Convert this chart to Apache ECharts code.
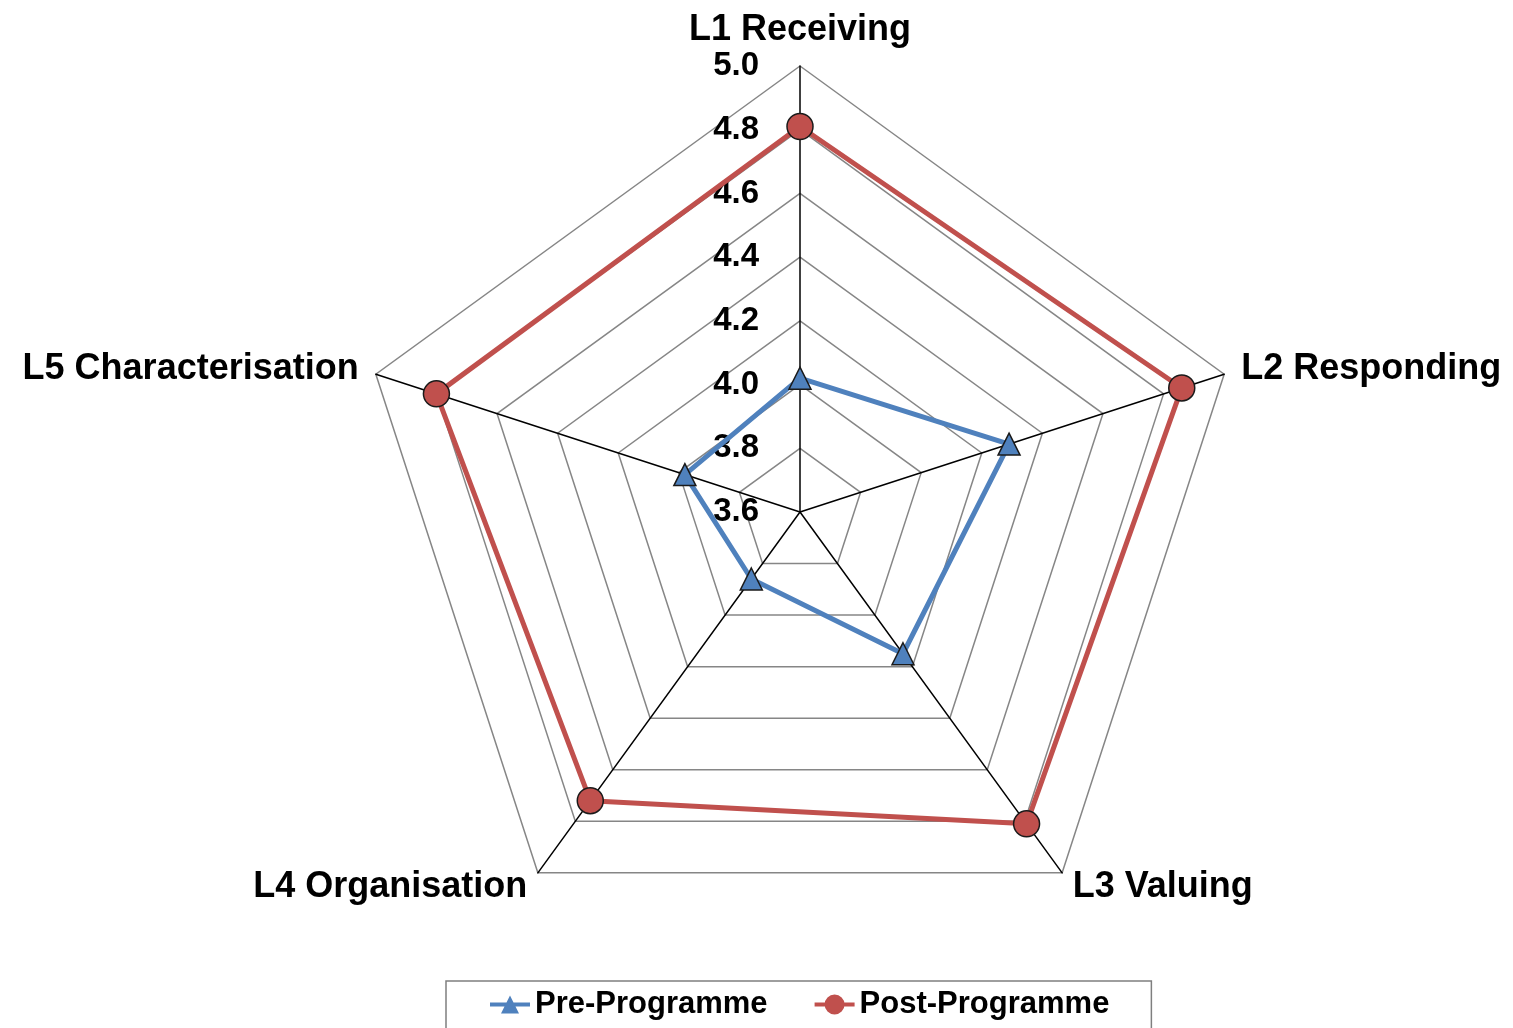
<!DOCTYPE html>
<html>
<head>
<meta charset="utf-8">
<title>Affective domain levels</title>
<script src="https://cdn.jsdelivr.net/npm/echarts@6/dist/echarts.min.js"></script>
<style>
  html, body { margin: 0; padding: 0; background: #fff; }
  #chart { width: 1513px; height: 1028px; }
</style>
</head>
<body>
<div id="chart"></div>
<script>
// Levels of the affective domain, listed clockwise from the top
const levels = ['L1 Receiving', 'L2 Responding', 'L3 Valuing', 'L4 Organisation', 'L5 Characterisation'];
const preProgramme = [4.02, 4.29, 4.15, 3.86, 3.98];
const postProgramme = [4.81, 4.86, 4.81, 4.72, 4.80];
// Radial scale
const scaleMin = 3.6;
const scaleMax = 5.0;
const scaleStep = 0.2;

const FONT = '"Liberation Sans", Arial, sans-serif';

// ECharts lays indicators out counter-clockwise; reverse all but the first to read clockwise
const order = [0].concat(levels.map((_, i) => i).slice(1).reverse());
const pick = arr => order.map(i => arr[i]);

const indicator = pick(levels).map((name, k) => ({
  name: name,
  min: scaleMin,
  max: scaleMax,
  axisLabel: { show: k === 0 }
}));

const legendLineTriangle = 'path://M0,9H40V13H0Z M11,20L20,2L29,20Z';
const legendLineCircle = 'path://M0,9H40V13H0Z M20,1A10,10,0,1,1,19.99,1Z';

const chart = echarts.init(document.getElementById('chart'), null, { renderer: 'canvas' });
chart.setOption({
  backgroundColor: '#ffffff',
  animation: false,
  legend: {
    bottom: -12,
    left: 446,
    orient: 'horizontal',
    data: [
      { name: 'Pre-Programme', icon: legendLineTriangle },
      { name: 'Post-Programme', icon: legendLineCircle }
    ],
    itemWidth: 40,
    itemHeight: 22,
    itemGap: 47,
    padding: [8, 42, 20, 44],
    borderColor: '#7f7f7f',
    borderWidth: 1.5,
    textStyle: { fontFamily: FONT, fontWeight: 'bold', fontSize: 31, color: '#000' },
    itemStyle: { borderWidth: 0 }
  },
  radar: {
    center: [800, 512],
    radius: 446,
    startAngle: 90,
    splitNumber: Math.round((scaleMax - scaleMin) / scaleStep),
    shape: 'polygon',
    indicator: indicator,
    axisName: {
      color: '#000',
      fontFamily: FONT,
      fontWeight: 'bold',
      fontSize: 36
    },
    nameGap: 18,
    axisLine: { show: true, lineStyle: { color: '#000', width: 1.5 } },
    splitLine: { show: true, lineStyle: { color: '#868686', width: 1.5 } },
    splitArea: { show: false },
    axisTick: { show: false },
    axisLabel: {
      show: true,
      color: '#000',
      fontFamily: FONT,
      fontWeight: 'bold',
      fontSize: 33,
      margin: 41,
      formatter: v => Number(v).toFixed(1)
    }
  },
  series: [{
    type: 'radar',
    data: [
      {
        name: 'Pre-Programme',
        value: pick(preProgramme),
        symbol: 'triangle',
        symbolSize: 22,
        lineStyle: { color: '#4f81bd', width: 5 },
        itemStyle: { color: '#4f81bd', borderColor: '#1a1a1a', borderWidth: 1.5 }
      },
      {
        name: 'Post-Programme',
        value: pick(postProgramme),
        symbol: 'circle',
        symbolSize: 26,
        lineStyle: { color: '#c0504d', width: 5 },
        itemStyle: { color: '#c0504d', borderColor: '#1a1a1a', borderWidth: 1.5 }
      }
    ]
  }]
});
</script>
</body>
</html>
